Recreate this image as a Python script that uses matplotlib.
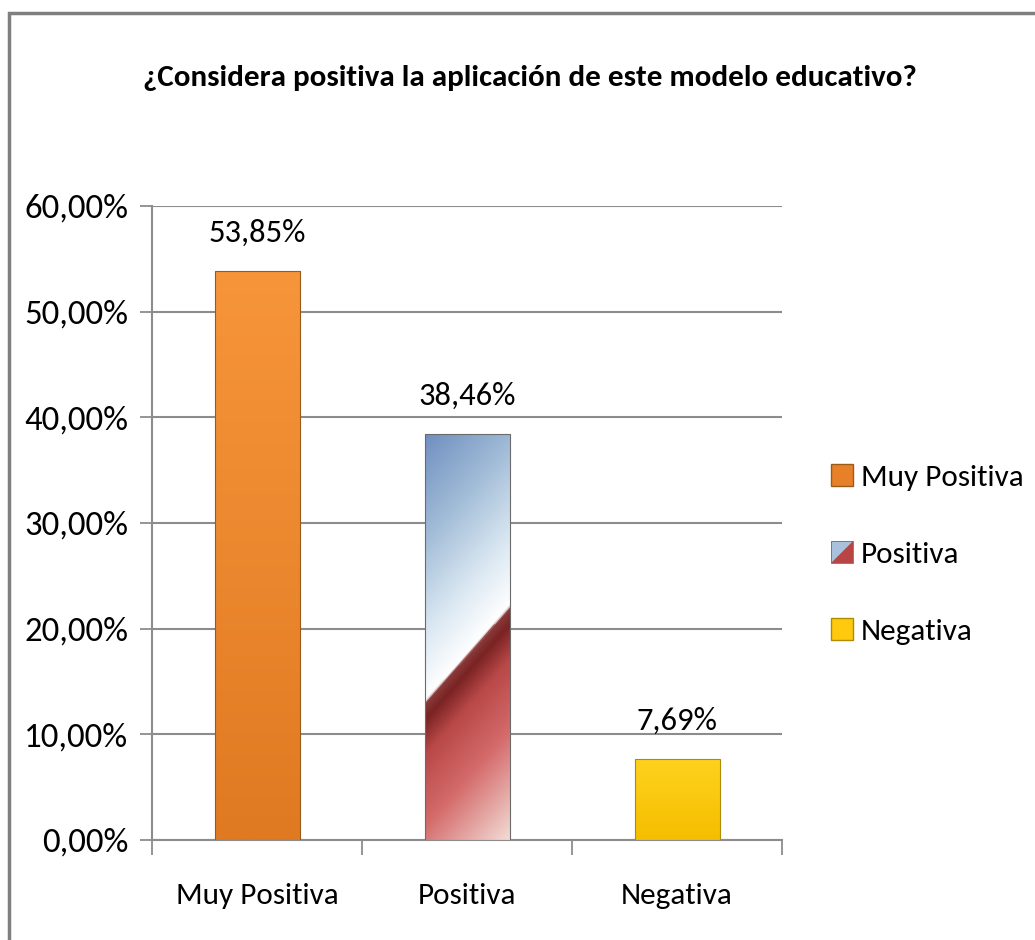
"""
Gráfico de barras: ¿Considera positiva la aplicación de este modelo educativo?
Guarda out.png (1035x940).
"""
import numpy as np
import matplotlib.pyplot as plt
from matplotlib.colors import LinearSegmentedColormap
from matplotlib.patches import Patch, Rectangle, Polygon
from matplotlib.legend_handler import HandlerBase

plt.rcParams['font.family'] = ['Carlito', 'DejaVu Sans']

# Datos
categorias = ['Muy Positiva', 'Positiva', 'Negativa']
porcentajes = [53.85, 38.46, 7.69]
ticks_y = [0, 10, 20, 30, 40, 50, 60]

titulo = '¿Considera positiva la aplicación de este modelo educativo?'

naranja = '#F28A2C'
amarillo = '#FFC90E'

fig = plt.figure(figsize=(10.35, 9.4), dpi=100)
ax = fig.add_axes([0.1469, 0.1064, 0.6087, 0.6745])

x = np.arange(len(categorias))
colores = [naranja, 'none', amarillo]
bars = ax.bar(x, porcentajes, width=0.405, color=colores,
              edgecolor='#9a5a1a', linewidth=0.8, zorder=3)
bars[1].set_edgecolor('#6b6b6b')
bars[2].set_edgecolor('#b08a00')

ax.set_xlim(-0.5, len(categorias) - 0.5)
ax.set_ylim(0, 60)

# degradado diagonal (azul -> blanco | rojo -> rosa) en la barra "Positiva"
fig.canvas.draw()
b = bars[1]
x0, y0 = b.get_x(), 0
x1, y1 = b.get_x() + b.get_width(), b.get_height()
(px0, py0), (px1, py1) = ax.transData.transform([(x0, y0), (x1, y1)])
nx, ny = 120, 500
gx, gy = np.meshgrid(np.linspace(0, px1 - px0, nx), np.linspace(0, py1 - py0, ny))
s = gy - 1.13 * gx  # coordenada a lo largo del degradado (px)
cmap = LinearSegmentedColormap.from_list('pos', [
    (0.00, '#f3dcd6'),
    (0.22, '#d46a6a'),
    (0.36, '#b94848'),
    (0.43, '#7a2323'),
    (0.462, '#8a3a3a'),
    (0.468, '#ffffff'),
    (0.60, '#dbe8f2'),
    (0.80, '#9fbad6'),
    (1.00, '#6f8fc0'),
])
smin, smax = -1.13 * (px1 - px0), (py1 - py0)
img = ax.imshow((s - smin) / (smax - smin), cmap=cmap, vmin=0, vmax=1,
                extent=[x0, x1, y0, y1], origin='lower', aspect='auto', zorder=2.9)
img.set_clip_path(b)

# degradado vertical suave en las barras sólidas
for i, (c_top, c_bot) in {0: ('#f7953a', '#e07a22'), 2: ('#ffd21f', '#f5be00')}.items():
    bb = bars[i]
    cm = LinearSegmentedColormap.from_list('v%d' % i, [c_bot, c_top])
    g = np.linspace(0, 1, 200).reshape(-1, 1)
    im = ax.imshow(g, cmap=cm, extent=[bb.get_x(), bb.get_x() + bb.get_width(), 0, bb.get_height()],
                   origin='lower', aspect='auto', zorder=2.9)
    im.set_clip_path(bb)
    bb.set_facecolor('none')

# etiquetas de valor
for xi, v in zip(x, porcentajes):
    ax.annotate(f'{v:.2f}%'.replace('.', ','), (xi, v), xytext=(0, 21),
                textcoords='offset points', ha='center', va='baseline', fontsize=23.5)

# ejes y rejilla
ax.set_yticks(ticks_y)
ax.set_yticklabels([f'{t:.2f}%'.replace('.', ',') for t in ticks_y], fontsize=25)
ax.set_xticks(x)
ax.set_xticklabels(categorias, fontsize=22.5)
ax.set_xticks(np.arange(-0.5, len(categorias)), minor=True)
ax.tick_params(axis='x', which='major', length=0, pad=31)
ax.tick_params(axis='x', which='minor', length=11, width=1.3, color='#8c8c8c', direction='out')
ax.tick_params(axis='y', length=9, width=1.3, color='#8c8c8c', pad=8)
ax.grid(axis='y', color='#8c8c8c', linewidth=1.5, zorder=0)
ax.set_axisbelow(True)
for side in ['top', 'right']:
    ax.spines[side].set_visible(False)
for side in ['left', 'bottom']:
    ax.spines[side].set_color('#8c8c8c')
    ax.spines[side].set_linewidth(1.5)

# título
fig.text(0.512, 0.917, titulo, ha='center', va='center', fontsize=22.3, fontweight='bold')


# leyenda
class HandlerDiagonal(HandlerBase):
    def create_artists(self, legend, orig_handle, xd, yd, w, h, fontsize, trans):
        a = Polygon([(xd, yd + h), (xd + w, yd + h), (xd, yd)], closed=True,
                    facecolor='#a9c2dc', edgecolor='none', transform=trans)
        c = Polygon([(xd + w, yd + h), (xd + w, yd), (xd, yd)], closed=True,
                    facecolor='#b84545', edgecolor='none', transform=trans)
        r = Rectangle((xd, yd), w, h, facecolor='none', edgecolor='#6b6b6b',
                      linewidth=0.6, transform=trans)
        return [a, c, r]


handles = [Patch(facecolor='#e8802a', edgecolor='#9a5a1a'),
           Patch(facecolor='white'),
           Patch(facecolor=amarillo, edgecolor='#b08a00')]
fig.legend(handles, categorias, loc='center left', bbox_to_anchor=(0.785, 0.41),
           frameon=False, fontsize=22.5, handlelength=0.7, handleheight=0.7,
           handletextpad=0.25, labelspacing=1.6, borderaxespad=0.2,
           handler_map={handles[1]: HandlerDiagonal()})

# marco del gráfico
fig.patches.append(Rectangle((9 / 1035, -0.05), 1.1, 0.05 + (940 - 13) / 940,
                             transform=fig.transFigure, fill=False,
                             edgecolor='#7f7f7f', linewidth=2.5))

fig.savefig('out.png', dpi=100)
